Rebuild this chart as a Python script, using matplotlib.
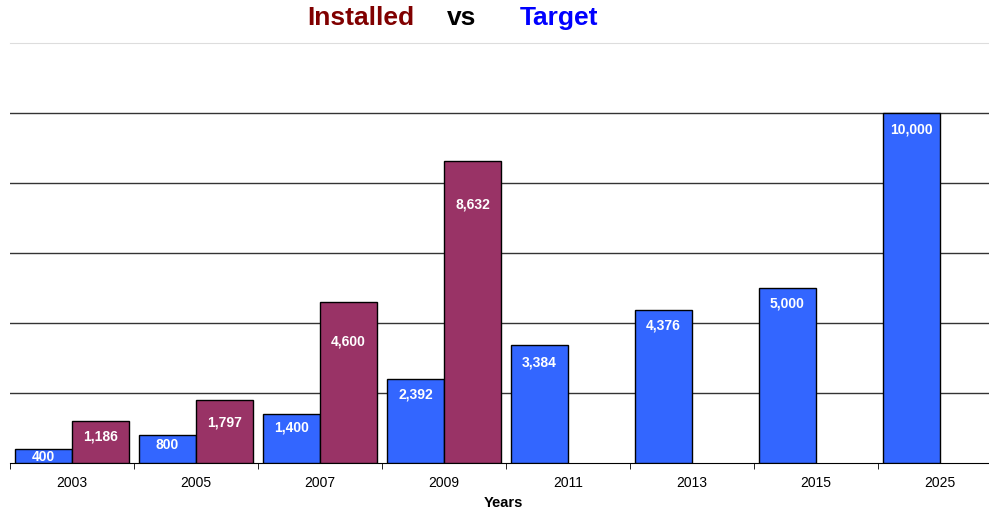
import matplotlib
matplotlib.use("Agg")
import matplotlib.pyplot as plt
import numpy as np

plt.rcParams['font.family'] = ['Liberation Sans', 'DejaVu Sans']

years = ["2003", "2005", "2007", "2009", "2011", "2013", "2015", "2025"]
target = [400, 800, 1400, 2392, 3384, 4376, 5000, 10000]
installed = [1186, 1797, 4600, 8632, None, None, None, None]

# label offsets below bar top, in pixels (style)
target_lab_off = [7, 9, 13, 14, 17, 15, 15, 15]
inst_lab_off = [14, 21, 38, 43]

blue = "#3366FF"
maroon = "#993366"

fig = plt.figure(figsize=(9.89, 5.10), dpi=100)
ax = fig.add_axes([10/989, 46/510, 992/989, 420/510])

x = np.arange(len(years))
w = 0.46
off = -0.5 + 0.04

tb = ax.bar(x + off, target, width=w, align='edge', color=blue, edgecolor='black', linewidth=1, zorder=3)
inst_x = [xi for xi, v in zip(x, installed) if v is not None]
inst_v = [v for v in installed if v is not None]
ib = ax.bar(np.array(inst_x) + off + w, inst_v, width=w, align='edge', color=maroon, edgecolor='black', linewidth=1, zorder=3)

px2pt = 72 / 100
for rect, v, o in zip(tb, target, target_lab_off):
    ax.annotate(f"{v:,}", (rect.get_x() + rect.get_width()/2, v), xytext=(0, -o * px2pt),
                textcoords='offset points', ha='center', va='center', color='white',
                fontsize=10, fontweight='bold', zorder=4)
for rect, v, o in zip(ib, inst_v, inst_lab_off):
    ax.annotate(f"{v:,}", (rect.get_x() + rect.get_width()/2, v), xytext=(0, -o * px2pt),
                textcoords='offset points', ha='center', va='center', color='white',
                fontsize=10, fontweight='bold', zorder=4)

ax.set_xlim(-0.5, len(years) - 0.5)
ax.set_ylim(0, 12000)
ax.set_yticks([2000, 4000, 6000, 8000, 10000])
ax.yaxis.grid(True, color='#333333', linewidth=1, zorder=0)
ax.tick_params(axis='y', left=False, labelleft=False)
ax.set_xticks(x)
ax.set_xticklabels(years, fontsize=10)
ax.tick_params(axis='x', length=0, pad=9)
ax.set_xticks(np.arange(-0.5, len(years) + 0.5, 1), minor=True)
ax.tick_params(axis='x', which='minor', length=4, color='black')
for s in ['left', 'right']:
    ax.spines[s].set_visible(False)
ax.spines['top'].set_color('#DDDDDD')
ax.spines['bottom'].set_color('black')

fig.text(503/989, 1 - 503/510, "Years", fontsize=10.5, fontweight='bold', ha='center', va='center')

fig.text(361/989, 1 - 18/510, "Installed", color="#800000", fontsize=19, fontweight='bold', ha='center', va='center')
fig.text(462/989, 1 - 18/510, "vs", color="black", fontsize=19, fontweight='bold', ha='center', va='center')
fig.text(559/989, 1 - 18/510, "Target", color="#0000FF", fontsize=19, fontweight='bold', ha='center', va='center')

fig.savefig("out.png", dpi=100)
